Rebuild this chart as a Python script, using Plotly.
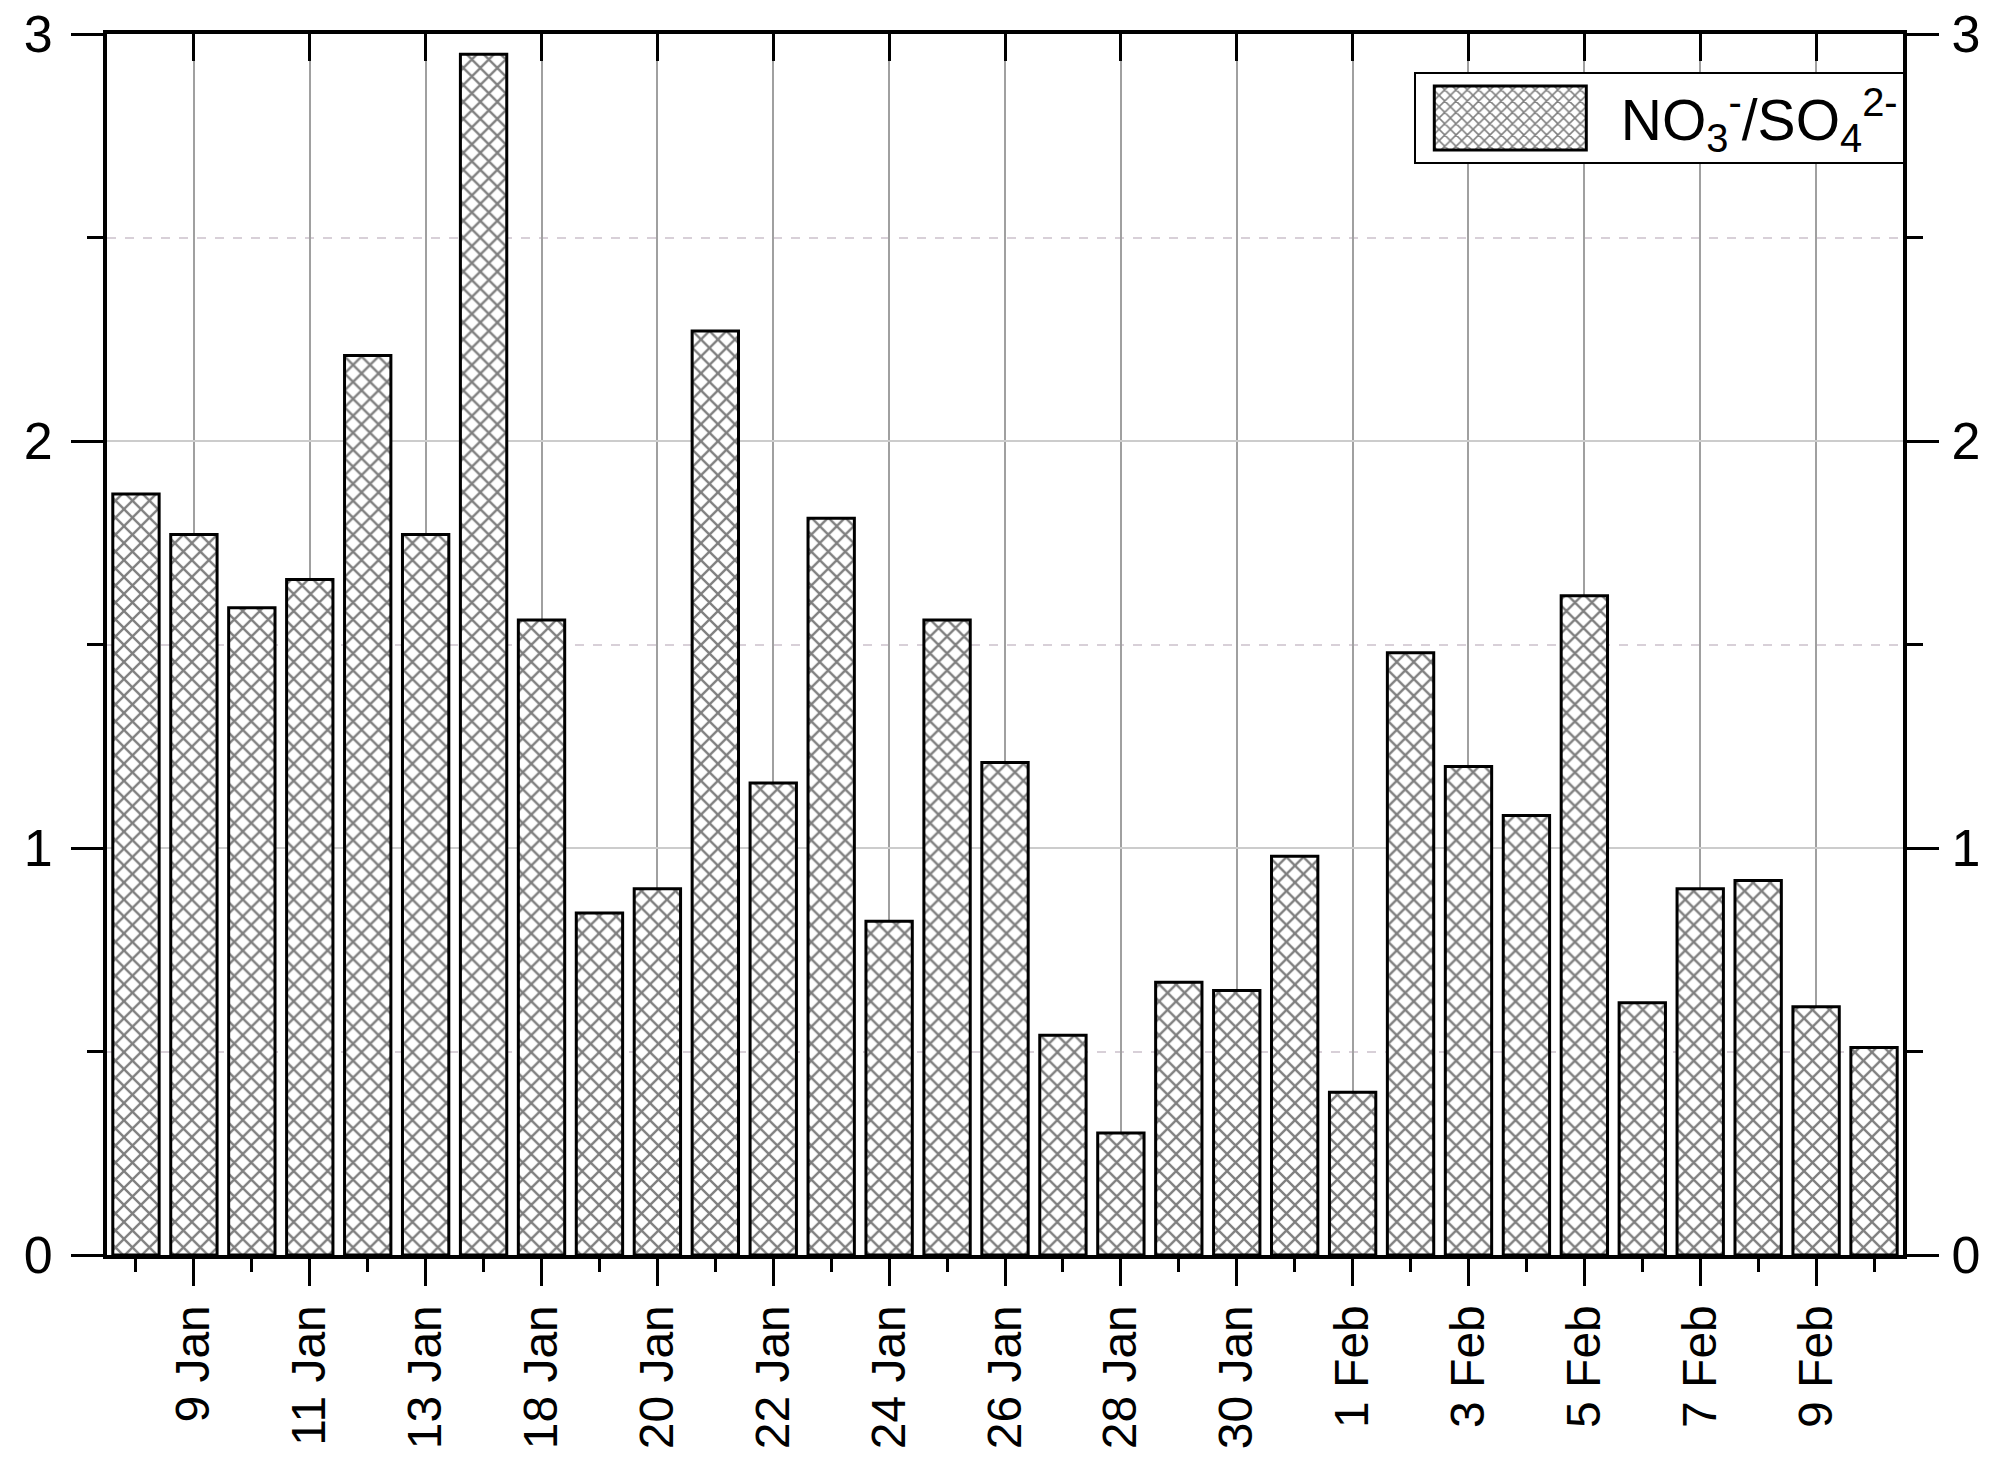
import plotly.graph_objects as go

# ---- data ----
dates = ["8 Jan", "9 Jan", "10 Jan", "11 Jan", "12 Jan", "13 Jan", "14 Jan",
         "18 Jan", "19 Jan", "20 Jan", "21 Jan", "22 Jan", "23 Jan", "24 Jan",
         "25 Jan", "26 Jan", "27 Jan", "28 Jan", "29 Jan", "30 Jan", "31 Jan",
         "1 Feb", "2 Feb", "3 Feb", "4 Feb", "5 Feb", "6 Feb", "7 Feb", "8 Feb",
         "9 Feb", "10 Feb"]
ratio = [1.87, 1.77, 1.59, 1.66, 2.21, 1.77, 2.95,
         1.56, 0.84, 0.90, 2.27, 1.16, 1.81, 0.82,
         1.56, 1.21, 0.54, 0.30, 0.67, 0.65, 0.98,
         0.40, 1.48, 1.20, 1.08, 1.62, 0.62, 0.90, 0.92,
         0.61, 0.51]
tick_labels = ["9 Jan", "11 Jan", "13 Jan", "18 Jan", "20 Jan", "22 Jan", "24 Jan",
               "26 Jan", "28 Jan", "30 Jan", "1 Feb", "3 Feb", "5 Feb", "7 Feb", "9 Feb"]
y_ticks = [0, 1, 2, 3]
series_name = "NO<sub>3</sub><sup>-</sup>/SO<sub>4</sub><sup>2-</sup>"

xpos = list(range(len(dates)))
tickvals = [dates.index(t) for t in tick_labels]

FONT = "Liberation Sans, Arial, sans-serif"

fig = go.Figure()
fig.add_trace(go.Bar(
    x=xpos, y=ratio, name=series_name,
    customdata=dates,
    hovertemplate="%{customdata}: %{y}<extra></extra>",
    marker=dict(color="white",
                line=dict(color="black", width=3),
                pattern=dict(shape="x", fgcolor="black", bgcolor="white",
                             size=12, solidity=0.35)),
    showlegend=True,
))
# invisible companion trace so the mirrored top / right axes are rendered
fig.add_trace(go.Scatter(
    x=xpos, y=ratio, xaxis="x2", yaxis="y2", mode="markers",
    marker=dict(opacity=0), hoverinfo="skip", showlegend=False,
))

xr = [-0.5, len(dates) - 0.5]
yr = [0, 3]

fig.update_layout(
    width=2010, height=1465,
    margin=dict(l=107, r=107, t=34, b=210),
    paper_bgcolor="white", plot_bgcolor="white",
    bargap=0.2,
    font=dict(family=FONT, size=50, color="black"),
    showlegend=True,
    legend=dict(x=1.001, y=0.9685, xanchor="right", yanchor="top",
                bgcolor="white", bordercolor="black", borderwidth=2,
                font=dict(size=57, family=FONT), itemwidth=195,
                tracegroupgap=0),
    xaxis=dict(
        range=xr, tickmode="array", tickvals=tickvals, ticktext=tick_labels,
        tickangle=-90, ticks="outside", ticklen=27, tickwidth=3, tickcolor="black",
        showline=True, linecolor="black", linewidth=4, automargin=False,
        showgrid=True, gridcolor="#a0a0a0", gridwidth=2,
        zeroline=False, tickfont=dict(size=48, family=FONT),
        ticklabeloverflow="allow",
        minor=dict(tickmode="linear", tick0=0, dtick=1, ticks="outside",
                   ticklen=13, tickwidth=3, tickcolor="black", showgrid=False),
    ),
    xaxis2=dict(
        range=xr, overlaying="x", side="top", anchor="y", automargin=False,
        tickmode="array", tickvals=tickvals, ticks="inside", ticklen=27,
        tickwidth=3, tickcolor="black", showticklabels=False,
        showline=True, linecolor="black", linewidth=4, showgrid=False,
        zeroline=False,
    ),
    yaxis=dict(
        range=yr, tickmode="array", tickvals=y_ticks, ticks="outside",
        ticklen=32, tickwidth=3, tickcolor="black", automargin=False,
        showline=True, linecolor="black", linewidth=4,
        showgrid=True, gridcolor="#cccccc", gridwidth=2, zeroline=False,
        tickfont=dict(size=52, family=FONT), ticklabelstandoff=8,
        ticklabeloverflow="allow",
        minor=dict(tickmode="linear", tick0=0, dtick=0.5, ticks="outside",
                   ticklen=16, tickwidth=3, tickcolor="black",
                   showgrid=True, gridcolor="#d8d0d8", griddash="dash", gridwidth=1.5),
    ),
    yaxis2=dict(
        range=yr, overlaying="y", side="right", anchor="x", automargin=False,
        tickmode="array", tickvals=y_ticks, ticks="outside",
        ticklen=32, tickwidth=3, tickcolor="black",
        showline=True, linecolor="black", linewidth=4, showgrid=False,
        zeroline=False, tickfont=dict(size=52, family=FONT), ticklabelstandoff=2,
        ticklabeloverflow="allow",
        minor=dict(tickmode="linear", tick0=0, dtick=0.5, ticks="outside",
                   ticklen=16, tickwidth=3, tickcolor="black", showgrid=False),
    ),
)

# remove the page's default body margin and enlarge the legend swatch
# (plotly draws a fixed 12px square for bar legend items)
post_js = """
document.body.style.margin = '0';
var gd = document.getElementById('{plot_id}');
function bigSwatch() {
  gd.querySelectorAll('.legend .legendpoints path').forEach(function(p) {
    p.setAttribute('d', 'M68,32H-84V-32H68Z');
  });
}
bigSwatch();
gd.on('plotly_afterplot', bigSwatch);
setTimeout(bigSwatch, 300);
"""

fig.write_html("out.html", post_script=post_js, config={"displayModeBar": False})
